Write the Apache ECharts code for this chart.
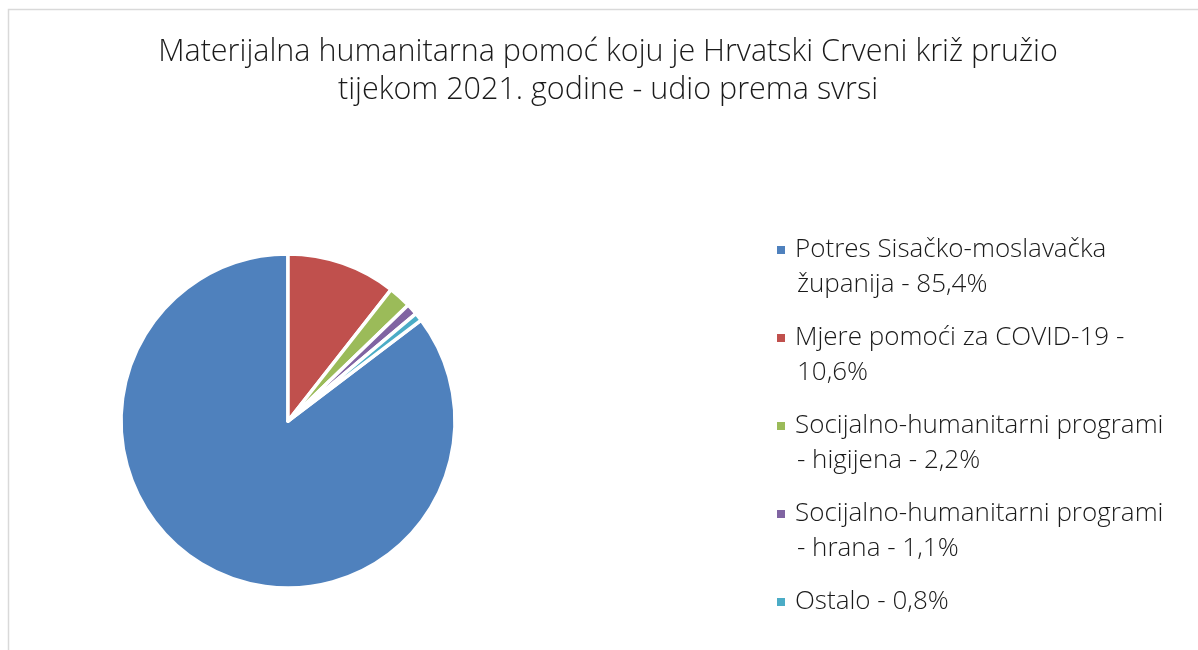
<!DOCTYPE html>
<html>
<head>
<meta charset="utf-8">
<script src="https://cdn.jsdelivr.net/npm/echarts@6/dist/echarts.min.js"></script>
<style>
  html, body { margin: 0; padding: 0; background: #fff; }
  #chart { width: 1198px; height: 650px; }
</style>
</head>
<body>
<div id="chart"></div>
<script>
const categories = [
  'Potres Sisačko-moslavačka\nžupanija - 85,4%',
  'Mjere pomoći za COVID-19 -\n10,6%',
  'Socijalno-humanitarni programi\n- higijena - 2,2%',
  'Socijalno-humanitarni programi\n- hrana - 1,1%',
  'Ostalo - 0,8%'
];
const shares = [85.4, 10.6, 2.2, 1.1, 0.8];
const colors = ['#4F81BD', '#C0504D', '#9BBB59', '#8064A2', '#4BACC6'];

const font = '"Open Sans", "Noto Sans", sans-serif';

const getOption = () => {
  const total = shares.reduce((a, b) => a + b, 0);
  const rich = {
    t: { fontSize: 26, fontFamily: font, fontWeight: 300, color: '#1a1a1a', lineHeight: 35, verticalAlign: 'middle' },
    ind: { width: 20, height: 8, lineHeight: 35 },
    gap: { width: 10, height: 8 }
  };
  colors.forEach((c, i) => {
    rich['s' + i] = { backgroundColor: c, width: 8, height: 8, verticalAlign: 'middle' };
  });

  return {
    animation: false,
    title: {
      text: 'Materijalna humanitarna pomoć koju je Hrvatski Crveni križ pružio\ntijekom 2021. godine - udio prema svrsi',
      left: 603,
      textAlign: 'center',
      top: 28,
      textStyle: {
        fontFamily: font,
        fontWeight: 300,
        fontSize: 30.5,
        lineHeight: 38,
        color: '#1a1a1a'
      }
    },
    legend: {
      orient: 'vertical',
      left: 766,
      top: 232,
      itemGap: 27,
      itemWidth: 0,
      itemHeight: 0,
      icon: 'rect',
      selectedMode: false,
      data: categories,
      formatter: (name) => {
        const i = categories.indexOf(name);
        const lines = name.split('\n');
        return lines.map((l, k) => (k === 0 ? '{s' + i + '|}{gap|}' : '{ind|}') + '{t|' + l + '}').join('\n');
      },
      textStyle: { rich: rich, padding: 0 }
    },
    series: [
      {
        type: 'pie',
        center: [288, 421],
        radius: 167,
        startAngle: 90 + 360 * shares[0] / total,
        clockwise: true,
        label: { show: false },
        labelLine: { show: false },
        emphasis: { disabled: true },
        itemStyle: { borderColor: '#fff', borderWidth: 3.5 },
        data: categories.map((name, i) => ({
          name: name,
          value: shares[i],
          itemStyle: { color: colors[i] }
        }))
      }
    ],
    graphic: [
      {
        type: 'rect',
        shape: { x: 8.5, y: 9.5, width: 1300, height: 800 },
        style: { fill: 'none', stroke: '#d9d9d9', lineWidth: 1.5 },
        silent: true
      }
    ]
  };
};

const chart = echarts.init(document.querySelector('#chart'));
chart.setOption(getOption());
</script>
</body>
</html>
